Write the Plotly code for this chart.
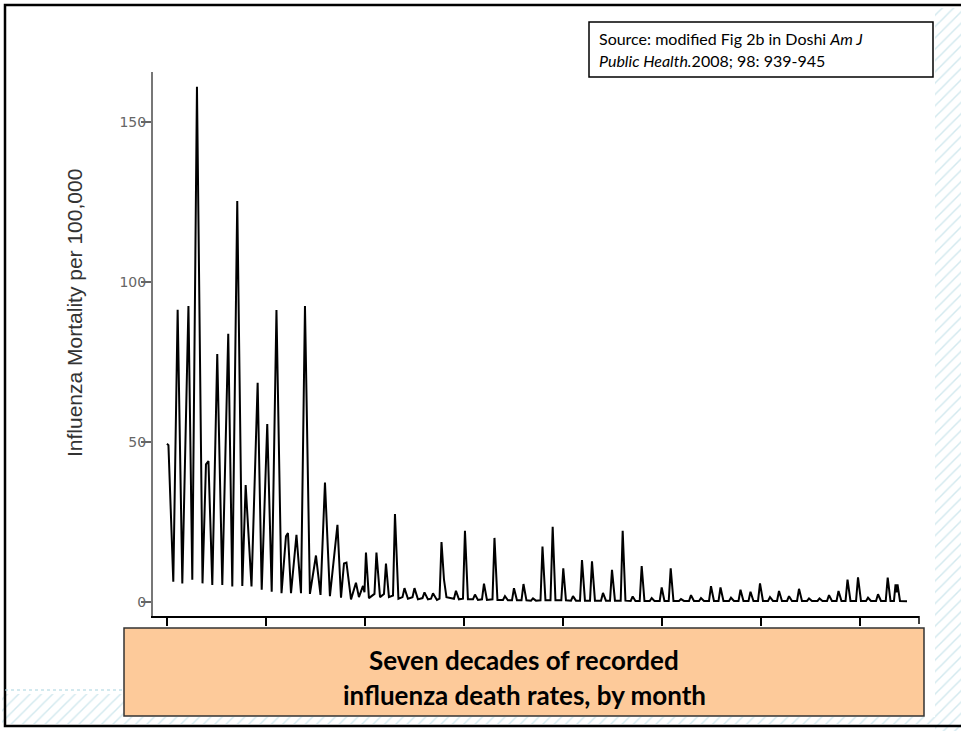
import plotly.graph_objects as go

W, H = 961, 731

# ---------------- data (turning points of the monthly series) -------------
vertex_year = [
    1910.00, 1910.15, 1910.64,
    1911.08, 1911.55,
    1912.17, 1912.56,
    1913.03, 1913.59,
    1913.94, 1914.19, 1914.58,
    1915.08, 1915.59,
    1916.19, 1916.60,
    1917.10, 1917.61,
    1917.95, 1918.54,
    1919.16, 1919.57,
    1920.13, 1920.58,
    1921.06, 1921.57,
    1922.02, 1922.22, 1922.53,
    1923.08, 1923.54,
    1923.94, 1924.44,
    1925.05, 1925.51,
    1925.96, 1926.46,
    1927.22, 1927.58,
    1927.88, 1928.13, 1928.59,
    1929.09, 1929.39,
    1929.80, 1929.95, 1930.10, 1930.40,
    1930.96, 1931.16, 1931.52,
    1931.92, 1932.12, 1932.42,
    1932.83, 1933.03, 1933.38,
    1933.79, 1933.99, 1934.34,
    1934.80, 1935.00, 1935.35,
    1935.81, 1936.01, 1936.36,
    1936.67, 1936.87, 1937.27,
    1937.53, 1937.73, 1937.98, 1938.23,
    1938.99, 1939.19, 1939.49,
    1939.90, 1940.10, 1940.40,
    1940.91, 1941.11, 1941.41,
    1941.82, 1942.02, 1942.32,
    1942.88, 1943.08, 1943.38,
    1943.94, 1944.14, 1944.44,
    1944.85, 1945.05, 1945.35,
    1945.81, 1946.01, 1946.31,
    1946.77, 1946.97, 1947.27,
    1947.73, 1947.93, 1948.23,
    1948.74, 1948.96, 1949.24,
    1949.83, 1950.03, 1950.30,
    1950.81, 1951.01, 1951.31,
    1951.72, 1951.92, 1952.22,
    1952.73, 1952.93, 1953.23,
    1953.84, 1954.04, 1954.34,
    1954.75, 1954.95, 1955.25,
    1955.83, 1956.03, 1956.31,
    1956.84, 1957.04, 1957.32,
    1957.75, 1957.95, 1958.23,
    1958.76, 1958.96, 1959.24,
    1959.77, 1959.97, 1960.25,
    1960.68, 1960.88, 1961.16,
    1961.72, 1961.92, 1962.22,
    1962.73, 1962.93, 1963.23,
    1963.74, 1963.94, 1964.24,
    1964.75, 1964.95, 1965.25,
    1965.71, 1965.91, 1966.21,
    1966.77, 1966.97, 1967.27,
    1967.73, 1967.93, 1968.23,
    1968.74, 1968.94, 1969.24,
    1969.70, 1969.90, 1970.20,
    1970.71, 1970.91, 1971.21,
    1971.62, 1971.82, 1972.12,
    1972.63, 1972.83, 1973.13,
    1973.64, 1973.84, 1974.14,
    1974.65, 1974.85, 1975.15,
    1975.71, 1975.91, 1976.21,
    1976.67, 1976.87, 1977.17,
    1977.63, 1977.83, 1978.13,
    1978.54, 1978.74, 1979.04,
    1979.60, 1979.80, 1980.10,
    1980.61, 1980.81, 1981.11,
    1981.62, 1981.82, 1982.12,
    1982.60, 1982.80, 1983.08,
    1983.43, 1983.59, 1983.69, 1983.79, 1984.04,
    1984.75,
]

mortality_rate = [
    49.4, 49.0, 6.3,
    91.3, 5.8,
    92.5, 6.9,
    161.0, 5.8,
    43.0, 44.0, 5.3,
    77.5, 5.3,
    83.8, 4.8,
    125.3, 5.0,
    36.5, 4.8,
    68.5, 3.8,
    55.6, 3.2,
    91.2, 2.7,
    20.5, 21.5, 2.7,
    21.0, 2.7,
    92.5, 2.5,
    14.5, 2.2,
    37.3, 1.8,
    24.1, 1.3,
    12.0, 12.3, 0.8,
    6.0, 1.5,
    5.0, 3.0, 15.4, 1.2,
    2.5, 15.4, 1.5,
    2.5, 12.0, 1.5,
    2.0, 27.5, 1.0,
    1.5, 4.3, 1.0,
    1.5, 4.3, 0.8,
    1.2, 3.0, 0.8,
    1.0, 2.7, 0.6,
    1.0, 18.7, 7.0, 1.5,
    1.0, 3.5, 0.8,
    1.0, 22.2, 0.8,
    0.8, 2.3, 0.6,
    0.8, 5.7, 0.6,
    0.8, 20.0, 0.6,
    0.6, 1.8, 0.5,
    0.5, 4.3, 0.5,
    0.5, 5.6, 0.5,
    0.4, 1.1, 0.4,
    0.5, 17.3, 0.5,
    0.5, 23.5, 0.5,
    0.5, 10.5, 0.5,
    0.4, 1.8, 0.4,
    0.4, 13.1, 0.4,
    0.4, 12.7, 0.4,
    0.4, 2.8, 0.4,
    0.4, 10.0, 0.4,
    0.4, 22.2, 0.4,
    0.3, 1.7, 0.3,
    0.3, 11.2, 0.3,
    0.3, 1.2, 0.3,
    0.3, 4.5, 0.3,
    0.3, 10.5, 0.3,
    0.3, 0.9, 0.3,
    0.3, 2.1, 0.3,
    0.3, 1.2, 0.3,
    0.3, 4.9, 0.3,
    0.3, 4.5, 0.3,
    0.3, 1.3, 0.3,
    0.3, 3.8, 0.3,
    0.3, 3.2, 0.3,
    0.3, 5.8, 0.3,
    0.3, 1.5, 0.3,
    0.3, 3.4, 0.3,
    0.3, 1.8, 0.3,
    0.3, 4.1, 0.3,
    0.3, 1.1, 0.3,
    0.3, 1.1, 0.3,
    0.3, 2.1, 0.3,
    0.3, 3.4, 0.3,
    0.3, 7.0, 0.3,
    0.3, 7.7, 0.3,
    0.3, 1.3, 0.3,
    0.3, 2.4, 0.3,
    0.3, 7.6, 0.3,
    0.3, 5.5, 3.0, 5.5, 0.3,
    0.2,
]

decade_ticks = [1910, 1920, 1930, 1940, 1950, 1960, 1970, 1980]
rate_ticks = [0, 50, 100, 150]
rate_tick_labels = ["0", "50", "100", "150"]

y_title = "Influenza Mortality per 100,000"
source_lines = ["Source: modified Fig 2b in Doshi <i>Am J</i>",
                "<i>Public Health.</i>2008; 98: 939-945"]
caption_lines = ["Seven decades of recorded", "influenza death rates, by month"]

# ---------------- layout helpers (pixel -> paper) ----------------
PL, PR, PT, PB = 153, 919, 72, 616


def fx(x):
    return x / W


def fy(y):
    return 1 - y / H


fig = go.Figure()

# decorative hatch (slide background) on a full-canvas helper axis
hatch_regions = [(935, 8, 965, 735), (2, 694, 124, 724), (124, 717, 935, 724)]
for (x0, y0, x1, y1) in hatch_regions:
    fig.add_trace(go.Scatter(
        x=[x0, x1, x1, x0, x0], y=[y0, y0, y1, y1, y0],
        xaxis="x2", yaxis="y2", mode="lines", line=dict(width=0),
        fill="toself", fillcolor="white",
        fillpattern=dict(shape="/", fgcolor="#a6d3de", bgcolor="white", size=8, solidity=0.18),
        showlegend=False, hoverinfo="skip"))

fig.add_trace(go.Scatter(
    x=vertex_year, y=mortality_rate, mode="lines",
    line=dict(color="black", width=2),
    showlegend=False, hoverinfo="skip"))

fig.update_layout(
    width=W, height=H, autosize=False,
    margin=dict(l=0, r=0, t=0, b=0),
    paper_bgcolor="white", plot_bgcolor="rgba(0,0,0,0)",
    xaxis=dict(domain=[fx(PL), fx(PR)], range=[1908.59, 1985.96],
               showline=True, linecolor="black", linewidth=2,
               ticks="outside", ticklen=8, tickwidth=1.5, tickcolor="black",
               tickvals=decade_ticks, showticklabels=False,
               showgrid=False, zeroline=False, anchor="y"),
    yaxis=dict(domain=[fy(PB), fy(PT)], range=[-4.4, 165.6],
               showline=True, linecolor="#777777", linewidth=2,
               ticks="outside", ticklen=10, tickwidth=2, tickcolor="#666666",
               tickvals=rate_ticks, ticktext=rate_tick_labels,
               ticklabelstandoff=-8,
               tickfont=dict(family="DejaVu Sans", size=14, color="#666666"),
               showgrid=False, zeroline=False, anchor="x"),
    xaxis2=dict(domain=[0, 1], range=[0, W], visible=False, anchor="y2"),
    yaxis2=dict(domain=[0, 1], range=[H, 0], visible=False, anchor="x2"),
)

shapes = []
# slide border
shapes.append(dict(type="rect", xref="paper", yref="paper",
                   x0=fx(5), x1=fx(975), y0=fy(726), y1=fy(5),
                   line=dict(color="black", width=2.5), fillcolor="rgba(0,0,0,0)", layer="above"))
# end tick of x axis
shapes.append(dict(type="line", xref="paper", yref="paper",
                   x0=fx(PR), x1=fx(PR), y0=fy(PB), y1=fy(PB + 8),
                   line=dict(color="black", width=1.5), layer="above"))
# source box
shapes.append(dict(type="rect", xref="paper", yref="paper",
                   x0=fx(589), x1=fx(933), y0=fy(77), y1=fy(22),
                   line=dict(color="black", width=1.5), fillcolor="white", layer="above"))
# caption box
shapes.append(dict(type="rect", xref="paper", yref="paper",
                   x0=fx(124), x1=fx(924), y0=fy(716), y1=fy(628),
                   line=dict(color="#333333", width=1.5), fillcolor="#FDCA9A", layer="above"))
# light dotted line bottom-left
shapes.append(dict(type="line", xref="paper", yref="paper",
                   x0=fx(5), x1=fx(124), y0=fy(690), y1=fy(690),
                   line=dict(color="#a6d3de", width=1, dash="dot"), layer="above"))
fig.update_layout(shapes=shapes)

annotations = []
annotations.append(dict(text=y_title, xref="paper", yref="paper",
                        x=fx(75), y=fy(313), textangle=-90, showarrow=False,
                        xanchor="center", yanchor="middle",
                        font=dict(family="Liberation Sans", size=21, color="#333333")))
for i, line in enumerate(source_lines):
    annotations.append(dict(text=line, xref="paper", yref="paper",
                            x=fx(597), y=fy(38 + 22 * i), showarrow=False,
                            xanchor="left", yanchor="middle",
                            font=dict(family="Lato", size=16, color="black")))
for i, line in enumerate(caption_lines):
    annotations.append(dict(text="<b>" + line + "</b>", xref="paper", yref="paper",
                            x=fx(524), y=fy(660 + 35 * i), showarrow=False,
                            xanchor="center", yanchor="middle",
                            font=dict(family="Lato", size=26, color="black")))
fig.update_layout(annotations=annotations)

fig.write_html("out.html", config={"displayModeBar": False},
               post_script="document.body.style.margin='0px';")
